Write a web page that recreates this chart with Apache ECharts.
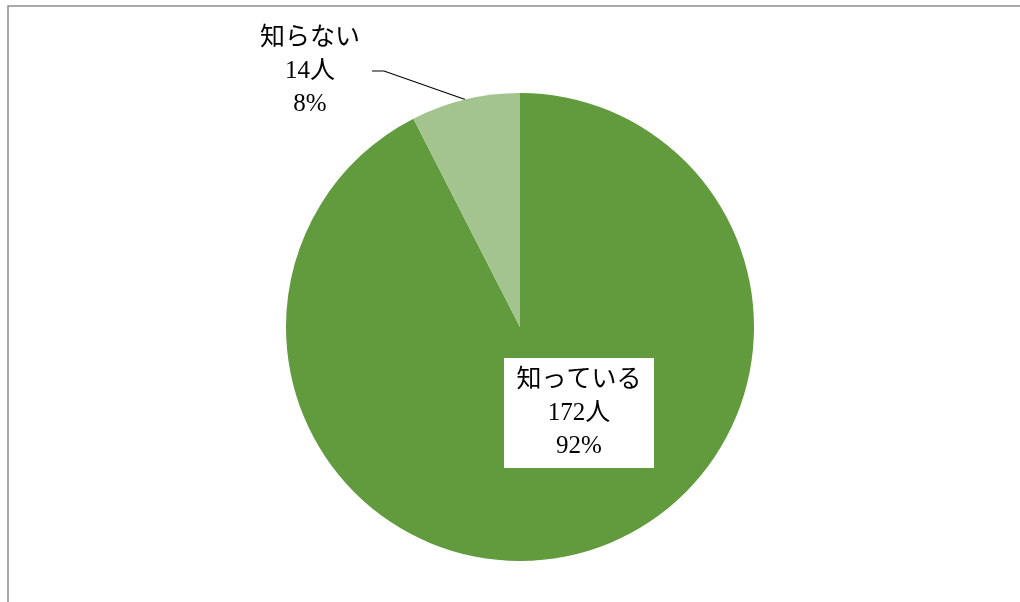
<!DOCTYPE html>
<html><head><meta charset="utf-8">
<script src="https://cdn.jsdelivr.net/npm/echarts@6/dist/echarts.min.js"></script>
<style>html,body{margin:0;padding:0;background:#fff}#c{width:1020px;height:602px}</style>
</head><body><div id="c"></div>
<script>
const categories = ['知っている', '知らない'];
const counts = [172, 14];
const percents = ['92%', '8%'];
const colors = ['#629A3E', '#A3C48F'];

const font = "'Liberation Serif', 'DejaVu Serif', 'Noto Sans CJK JP', serif";
const chart = echarts.init(document.getElementById('c'));
const data = categories.map((n, i) => ({
  name: n, value: counts[i], itemStyle: { color: colors[i] },
  label: i === 0 ? {
    position: 'inside', backgroundColor: '#fff', padding: [7, 12, 4, 12],
    width: 126, overflow: 'none', align: 'center'
  } : { position: 'outside' }
}));
chart.setOption({
  animation: false,
  graphic: [{ type: 'rect', shape: { x: 8, y: 6, width: 1100, height: 700 },
    style: { fill: 'none', stroke: '#8c8c8c', lineWidth: 1.5 }, silent: true }],
  series: [{
    type: 'pie', center: [520, 327], radius: 234, startAngle: 90, clockwise: true,
    data: data,
    label: {
      formatter: p => p.name + '\n' + p.value + '人\n' + percents[p.dataIndex],
      fontFamily: font, fontSize: 25, lineHeight: 33, color: '#000', align: 'center'
    },
    labelLine: { show: true, lineStyle: { color: '#000', width: 1.2 }, smooth: false },
    labelLayout: function (p) {
      if (p.dataIndex === 0) {
        return { x: 579, y: 413, align: 'center', verticalAlign: 'middle' };
      }
      const pts = p.labelLinePoints;
      const start = pts ? pts[0] : [465, 99];
      return {
        x: 310, y: 71, align: 'center', verticalAlign: 'middle',
        labelLinePoints: [start, [384, 71], [372, 71]]
      };
    }
  }]
});
</script></body></html>
